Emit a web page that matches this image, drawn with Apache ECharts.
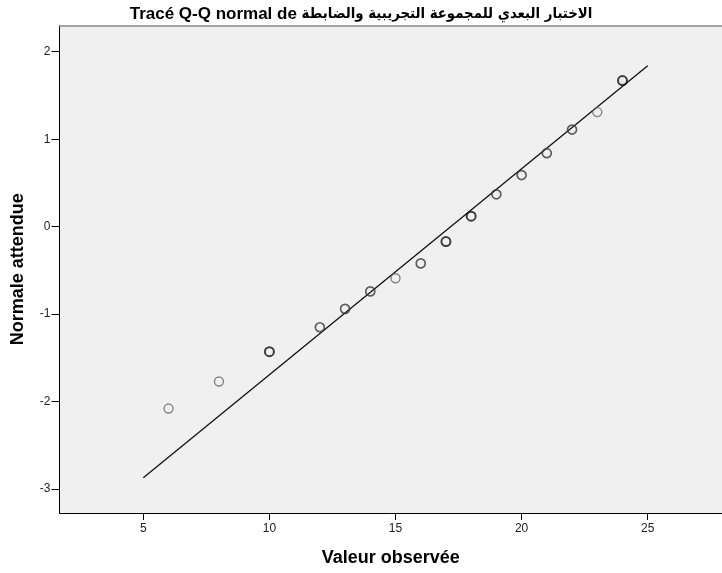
<!DOCTYPE html>
<html>
<head>
<meta charset="utf-8">
<script src="https://cdn.jsdelivr.net/npm/echarts@6/dist/echarts.min.js"></script>
<style>
html,body{margin:0;padding:0;background:#fff;}
#chart{width:722px;height:573px;}
</style>
</head>
<body>
<div id="chart"></div>
<script>
var observed = [6, 8, 10, 12, 13, 14, 15, 16, 17, 18, 19, 20, 21, 22, 23, 24];
var expectedNormal = [-2.08, -1.77, -1.43, -1.15, -0.94, -0.74, -0.59, -0.42, -0.17, 0.12, 0.37, 0.59, 0.84, 1.11, 1.31, 1.67];
// Approximate number of overlapping cases at each point (darker rings)
var caseCount = [1, 1, 3, 2, 2, 2, 1, 2, 3, 3, 2, 2, 2, 2, 1, 3];
// Reference line end points
var lineX = [5, 25];
var lineY = [-2.87, 1.84];
// Tick labels
var xTicks = [5, 10, 15, 20, 25];
var yTicks = [-3, -2, -1, 0, 1, 2];

var titleLatin = 'Tracé Q-Q normal de';
var titleArabic = 'الاختبار البعدي للمجموعة التجريبية والضابطة';

var shade = {1: '#6a6a6a', 2: '#3a3a3a', 3: '#111111'};
var widths = {1: 1.4, 2: 1.7, 3: 2.0};

var pts = observed.map(function (x, i) {
  var c = caseCount[i];
  return {
    value: [x, expectedNormal[i]],
    itemStyle: {borderColor: shade[c], borderWidth: widths[c]}
  };
});
var linePts = lineX.map(function (x, i) { return [x, lineY[i]]; });

var xMin = 1.677, xMax = 27.946;
var chart = echarts.init(document.getElementById('chart'), null, {renderer: 'canvas'});
var font = 'Arial, "Liberation Sans", "DejaVu Sans", sans-serif';
chart.setOption({
  animation: false,
  backgroundColor: '#ffffff',
  title: {
    text: '{a|' + titleLatin + '} {b|' + titleArabic + '}',
    left: 'center',
    top: 1,
    textStyle: {
      fontFamily: font, fontSize: 17, fontWeight: 'bold', color: '#000',
      rich: {
        a: {fontFamily: font, fontSize: 17, fontWeight: 'bold', color: '#000'},
        b: {fontFamily: '"DejaVu Sans Condensed", "DejaVu Sans", sans-serif', fontSize: 14.8, fontWeight: 'bold', color: '#000'}
      }
    }
  },
  grid: {
    left: 59.5, right: 0, top: 25.5, bottom: 60,
    show: true, backgroundColor: '#f0f0f0', borderWidth: 0
  },
  xAxis: [{
    type: 'value',
    min: xMin, max: xMax,
    name: 'Valeur observée',
    nameLocation: 'middle',
    nameGap: 36,
    nameTextStyle: {fontFamily: font, fontSize: 18, fontWeight: 'bold', color: '#000'},
    axisLine: {show: true, onZero: false, lineStyle: {color: '#000', width: 1}},
    axisTick: {show: true, length: 7, customValues: xTicks, lineStyle: {color: '#000'}},
    axisLabel: {customValues: xTicks, margin: 10, fontFamily: font, fontSize: 12, color: '#222'},
    splitLine: {show: false}
  }, {
    type: 'value',
    position: 'top',
    min: xMin, max: xMax,
    axisLine: {show: true, onZero: false, lineStyle: {color: '#8a8a8a', width: 1.5}},
    axisTick: {show: false},
    axisLabel: {show: false},
    splitLine: {show: false}
  }],
  yAxis: {
    type: 'value',
    min: -3.274, max: 2.30,
    name: 'Normale attendue',
    nameLocation: 'middle',
    nameGap: 32,
    nameRotate: 90,
    nameTextStyle: {fontFamily: font, fontSize: 18, fontWeight: 'bold', color: '#000'},
    axisLine: {show: true, onZero: false, lineStyle: {color: '#000', width: 1}},
    axisTick: {show: true, length: 8, customValues: yTicks, lineStyle: {color: '#000'}},
    axisLabel: {customValues: yTicks, margin: 9, fontFamily: font, fontSize: 12, color: '#222'},
    splitLine: {show: false}
  },
  series: [
    {
      type: 'line',
      data: linePts,
      symbol: 'none',
      lineStyle: {color: '#111', width: 1.3},
      z: 2
    },
    {
      type: 'scatter',
      data: pts,
      symbol: 'circle',
      symbolSize: 9,
      itemStyle: {color: 'rgba(0,0,0,0)'},
      z: 3
    }
  ]
});
</script>
</body>
</html>
